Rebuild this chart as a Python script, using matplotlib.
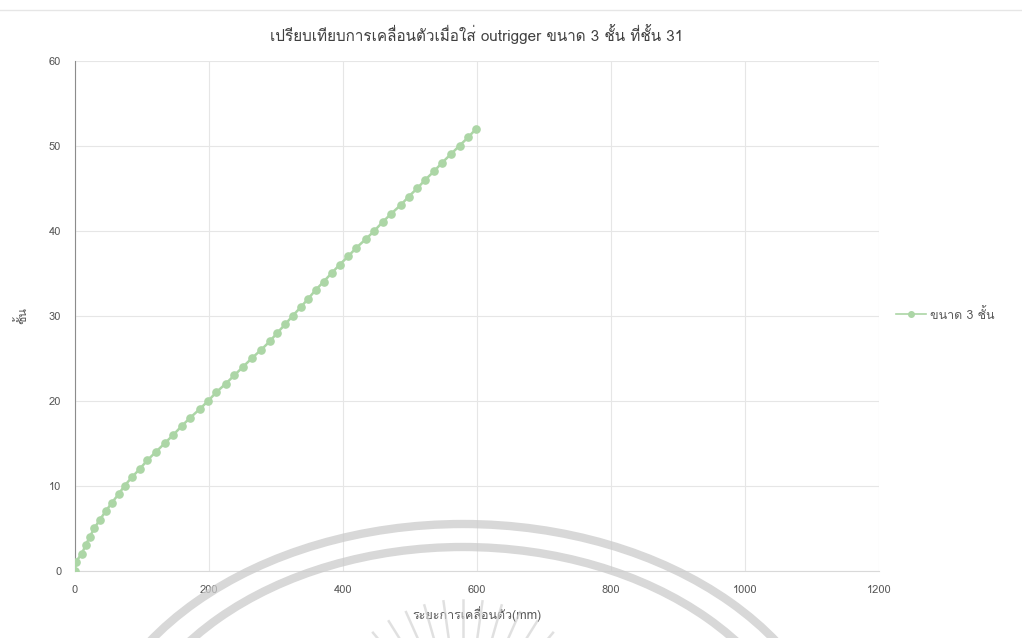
import numpy as np
import matplotlib
matplotlib.use("Agg")
from matplotlib import pyplot as plt
from matplotlib import font_manager
from matplotlib.ft2font import FT2Font
from matplotlib.patches import Arc
from matplotlib.lines import Line2D

# displacement (mm) at each floor
displacement = [0, 1, 10, 16, 22, 29, 37, 46, 55, 65,
                74, 85, 97, 108, 121, 134, 147, 159, 172, 186,
                199, 211, 225, 238, 251, 264, 278, 291, 302, 314,
                325, 337, 348, 359, 371, 383, 395, 408, 420, 434,
                447, 459, 472, 486, 498, 511, 523, 536, 548, 561,
                574, 587, 599]
floors = [0, 1, 2, 3, 4, 5, 6, 7, 8, 9,
          10, 11, 12, 13, 14, 15, 16, 17, 18, 19,
          20, 21, 22, 23, 24, 25, 26, 27, 28, 29,
          30, 31, 32, 33, 34, 35, 36, 37, 38, 39,
          40, 41, 42, 43, 44, 45, 46, 47, 48, 49,
          50, 51, 52]
x_ticks = [0, 200, 400, 600, 800, 1000, 1200]
y_ticks = [0, 10, 20, 30, 40, 50, 60]

title = "เปรียบเทียบการเคลื่อนตัวเมื่อใส่ outrigger ขนาด 3 ชั้น ที่ชั้น 31"
xlabel = "ระยะการเคลื่อนตัว(mm)"
ylabel = "ชั้น"
series_name = "ขนาด 3 ชั้น"


def find_thai_font():
    for f in font_manager.fontManager.ttflist:
        try:
            ft = FT2Font(f.fname)
            if ft.get_char_index(0x0E01) and ft.get_char_index(0x0E40):
                return f.name
        except Exception:
            pass
    return None


thai = find_thai_font()
families = [thai, "DejaVu Sans"] if thai else ["DejaVu Sans"]
plt.rcParams["font.family"] = families

fig = plt.figure(figsize=(10.22, 6.38), dpi=100)
ax = fig.add_axes([0.0734, 0.1055, 0.7866, 0.7994])

grey = "#595959"
green = "#acd6a6"

ax.plot(displacement, floors, color=green, lw=1.8, marker="o", ms=5.2,
        markerfacecolor=green, markeredgecolor=green, zorder=3)

ax.set_xlim(0, 1200)
ax.set_ylim(0, 60)
ax.set_xticks(x_ticks)
ax.set_yticks(y_ticks)
ax.grid(True, color="#e6e6e6", lw=0.8)
ax.set_axisbelow(True)
for s in ["top", "right"]:
    ax.spines[s].set_visible(False)
ax.spines["left"].set_color("#8c8c8c")
ax.spines["left"].set_linewidth(0.8)
ax.spines["bottom"].set_color("#d9d9d9")
ax.tick_params(length=0, labelsize=8, colors=grey, pad=10)

ax.set_title(title, fontsize=11, color="#404040", pad=14)
ax.set_xlabel(xlabel, fontsize=9, color=grey, labelpad=8)
ax.set_ylabel(ylabel, fontsize=9, color=grey, labelpad=14)

handle = Line2D([], [], color=green, lw=1.2, marker="o", ms=4)
fig.legend([handle], [series_name], loc="center left",
           bbox_to_anchor=(0.866, 0.507), frameon=False, fontsize=9,
           labelcolor=grey, handlelength=2.4, handletextpad=0.3)

# faint page line at the top
fig.add_artist(Line2D([0, 1], [0.985, 0.985], transform=fig.transFigure,
                      color="#e6e6e6", lw=1))

# watermark arcs at the bottom (figure pixels)
for w, h in [(756, 534), (692, 488)]:
    fig.add_artist(Arc((463, 638 - 791), w, h, theta1=0, theta2=180,
                       transform=None, color="#cbcbcb", lw=6,
                       alpha=0.75, zorder=10))
# rays of the watermark
cx, cy = 463, 638 - 740
for ang in np.arange(42, 139, 8):
    a = np.deg2rad(ang)
    x0, y0 = cx + 80 * np.cos(a), cy + 80 * np.sin(a)
    x1, y1 = cx + 140 * np.cos(a), cy + 140 * np.sin(a)
    fig.add_artist(Line2D([x0, x1], [y0, y1], transform=None,
                          color="#d4d4d4", lw=1.8, alpha=0.7, zorder=10))

fig.savefig("out.png", dpi=100)
